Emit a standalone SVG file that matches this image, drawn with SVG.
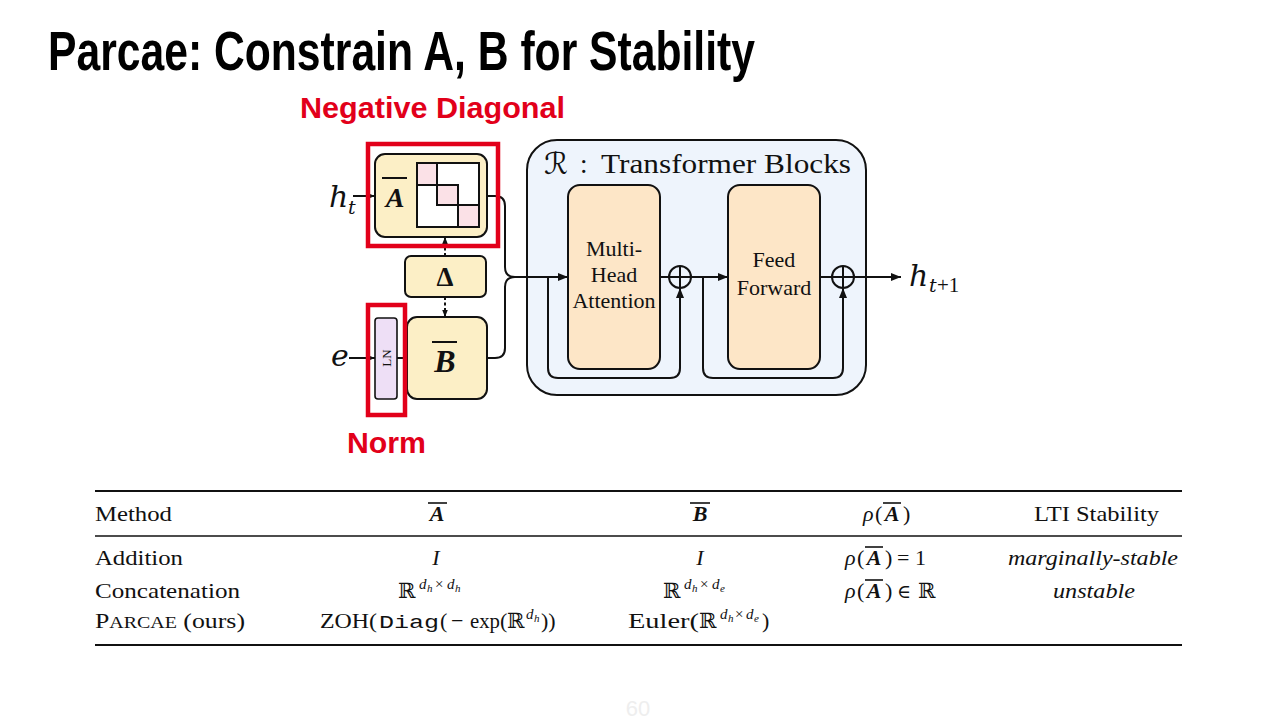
<svg xmlns="http://www.w3.org/2000/svg" width="1280" height="720" viewBox="0 0 1280 720">
<style>
.ser{font-family:"Liberation Serif","Times New Roman",serif;fill:#111}
.math{font-family:"DejaVu Serif","Liberation Serif",serif;font-style:italic;fill:#111}
.it{font-style:italic}
.bi{font-style:italic;font-weight:bold}
.ds{font-family:"DejaVu Serif","DejaVu Sans",serif;fill:#111}
.mono{font-family:"Liberation Mono","DejaVu Sans Mono",monospace;fill:#111}
.ln{stroke:#111;stroke-width:2;fill:none}
.box{stroke:#111;stroke-width:2}
.yel{fill:#fcefc6}
.peach{fill:#fde6c7}
.red{fill:none;stroke:#e2001a;stroke-width:4.5}
.rule{stroke:#111}
.lbl{font-family:"Liberation Sans",Arial,sans-serif;font-weight:bold;fill:#e2001a}
</style>
<defs>
<marker id="arr" viewBox="0 0 10 8" refX="10" refY="4" markerWidth="10" markerHeight="8" markerUnits="userSpaceOnUse" orient="auto"><path d="M0,0 L10,4 L0,8 z" fill="#111"/></marker>
<marker id="arrs" viewBox="0 0 10 8" refX="10" refY="4" markerWidth="7" markerHeight="6" markerUnits="userSpaceOnUse" orient="auto"><path d="M0,0 L10,4 L0,8 z" fill="#111"/></marker>
</defs>
<rect width="1280" height="720" fill="#ffffff"/>

<text x="48" y="70" font-family="Liberation Sans,Arial,sans-serif" font-weight="bold" font-size="55" fill="#000" textLength="707" lengthAdjust="spacingAndGlyphs">Parcae: Constrain A, B for Stability</text>

<g id="container">
<rect x="527" y="140" width="339" height="255" rx="30" fill="#eef4fc" class="box"/>
<text x="544" y="174" class="ds it" font-size="30">ℛ</text>
<text x="580" y="173" class="ser" font-size="27">:</text>
<text x="601" y="173" class="ser" font-size="27" textLength="250" lengthAdjust="spacingAndGlyphs">Transformer Blocks</text>
</g>

<g id="connectors">
<line x1="353" y1="196" x2="375" y2="196" class="ln" stroke-width="1.6" marker-end="url(#arrs)"/>
<line x1="349" y1="358" x2="375" y2="358" class="ln" stroke-width="1.6" marker-end="url(#arrs)"/>
<line x1="397" y1="358" x2="407" y2="358" class="ln" stroke-width="1.6"/>
<line x1="445" y1="256" x2="445" y2="237" class="ln" stroke-width="1.6" stroke-dasharray="3 2.5" marker-end="url(#arrs)"/>
<line x1="445" y1="297" x2="445" y2="317" class="ln" stroke-width="1.6" stroke-dasharray="3 2.5" marker-end="url(#arrs)"/>
<path d="M487,196 H495 Q505,196 505,206 V267 Q505,277 515,277" class="ln"/>
<path d="M487,358 H495 Q505,358 505,348 V287 Q505,277 515,277" class="ln"/>
<line x1="515" y1="277" x2="568" y2="277" class="ln" marker-end="url(#arr)"/>
<line x1="660" y1="277" x2="669" y2="277" class="ln"/>
<line x1="691" y1="277" x2="728" y2="277" class="ln" marker-end="url(#arr)"/>
<line x1="820" y1="277" x2="832" y2="277" class="ln"/>
<line x1="854" y1="277" x2="901" y2="277" class="ln" marker-end="url(#arr)"/>
<path d="M548,277 V368 Q548,378 558,378 H670 Q680,378 680,368 V288" class="ln" marker-end="url(#arr)"/>
<path d="M703,277 V368 Q703,378 713,378 H833 Q843,378 843,368 V288" class="ln" marker-end="url(#arr)"/>
</g>

<g id="input-ht">
<text x="329" y="207" class="math" font-size="30">h</text>
<text x="348" y="214" class="math" font-size="19">t</text>
</g>
<g id="input-e">
<text x="331" y="366" class="math" font-size="30">e</text>
</g>

<g id="node-A">
<rect x="375" y="154" width="112" height="83" rx="10" class="box yel"/>
<line x1="382" y1="178" x2="407" y2="178" stroke="#111" stroke-width="2"/>
<text x="395" y="207" class="ser bi" font-size="28" text-anchor="middle">A</text>
<rect x="417" y="163" width="62" height="64" fill="#fff"/>
<rect x="417" y="163" width="20" height="22" fill="#fbe1e7"/>
<rect x="437" y="185" width="21" height="20" fill="#fbe1e7"/>
<rect x="458" y="205" width="21" height="22" fill="#fbe1e7"/>
<path d="M417,185 H458 V227 M437,163 V205 H479" class="ln"/>
<rect x="417" y="163" width="62" height="64" class="ln"/>
</g>

<g id="node-Delta">
<rect x="405" y="256" width="81" height="41" rx="6" class="box yel"/>
<text x="445" y="286" class="ser" font-weight="bold" font-size="27" text-anchor="middle">Δ</text>
</g>

<g id="node-B">
<rect x="407" y="317" width="80" height="82" rx="10" class="box yel"/>
<line x1="432" y1="342" x2="457" y2="342" stroke="#111" stroke-width="2"/>
<text x="445" y="372" class="ser bi" font-size="32" text-anchor="middle">B</text>
</g>

<g id="node-LN">
<rect x="375" y="318" width="22" height="81" rx="3" fill="#eedff6" stroke="#111" stroke-width="1.6"/>
<text x="0" y="0" class="ser" font-size="13" text-anchor="middle" transform="translate(390.5,358) rotate(-90)">LN</text>
</g>

<g id="node-MHA">
<rect x="568" y="185" width="92" height="184" rx="12" class="box peach"/>
<text x="614" y="256" class="ser" font-size="22" text-anchor="middle">Multi-</text>
<text x="614" y="282" class="ser" font-size="22" text-anchor="middle">Head</text>
<text x="614" y="308" class="ser" font-size="22" text-anchor="middle">Attention</text>
</g>

<g id="add-1">
<circle cx="680" cy="277" r="11" fill="none" stroke="#111" stroke-width="2"/>
<path d="M669,277 H691 M680,266 V288" class="ln"/>
</g>

<g id="node-FF">
<rect x="728" y="185" width="92" height="184" rx="12" class="box peach"/>
<text x="774" y="267" class="ser" font-size="22" text-anchor="middle">Feed</text>
<text x="774" y="295" class="ser" font-size="22" text-anchor="middle">Forward</text>
</g>

<g id="add-2">
<circle cx="843" cy="277" r="11" fill="none" stroke="#111" stroke-width="2"/>
<path d="M832,277 H854 M843,266 V288" class="ln"/>
</g>

<g id="output">
<text x="909" y="286" class="math" font-size="30">h</text>
<text x="929" y="292" class="math" font-size="19">t</text>
<text x="937" y="292" class="ser" font-size="21">+1</text>
</g>

<g id="highlights">
<rect x="368" y="144" width="130" height="102" class="red"/>
<rect x="368" y="305" width="37" height="110" class="red"/>
<text x="300" y="118" class="lbl" font-size="29" textLength="265" lengthAdjust="spacingAndGlyphs">Negative Diagonal</text>
<text x="347" y="453" class="lbl" font-size="29" textLength="79" lengthAdjust="spacingAndGlyphs">Norm</text>
</g>

<g id="table">
<line x1="95" y1="491" x2="1182" y2="491" class="rule" stroke-width="2"/>
<line x1="95" y1="536" x2="1182" y2="536" class="rule" stroke-width="1.3"/>
<line x1="95" y1="645" x2="1182" y2="645" class="rule" stroke-width="2"/>

<text x="95" y="521" class="ser" font-size="22" textLength="77" lengthAdjust="spacingAndGlyphs">Method</text>
<line x1="428" y1="503" x2="447" y2="503" stroke="#111" stroke-width="1.6"/>
<text x="437" y="521" class="ser bi" font-size="22" text-anchor="middle">A</text>
<line x1="690" y1="503" x2="710" y2="503" stroke="#111" stroke-width="1.6"/>
<text x="700" y="521" class="ser bi" font-size="22" text-anchor="middle">B</text>
<text x="863" y="521" class="ser it" font-size="22">ρ</text>
<text x="875" y="521" class="ser" font-size="22">(</text>
<line x1="883" y1="503" x2="901" y2="503" stroke="#111" stroke-width="1.6"/>
<text x="892" y="521" class="ser bi" font-size="22" text-anchor="middle">A</text>
<text x="903" y="521" class="ser" font-size="22">)</text>
<text x="1034" y="521" class="ser" font-size="22" textLength="125" lengthAdjust="spacingAndGlyphs">LTI Stability</text>

<text x="95" y="565" class="ser" font-size="22" textLength="88" lengthAdjust="spacingAndGlyphs">Addition</text>
<text x="436" y="565" class="ser it" font-size="22" text-anchor="middle">I</text>
<text x="700" y="565" class="ser it" font-size="22" text-anchor="middle">I</text>
<text x="845" y="565" class="ser it" font-size="22">ρ</text>
<text x="857" y="565" class="ser" font-size="22">(</text>
<line x1="865" y1="547" x2="883" y2="547" stroke="#111" stroke-width="1.6"/>
<text x="874" y="565" class="ser bi" font-size="22" text-anchor="middle">A</text>
<text x="885" y="565" class="ser" font-size="22">)</text>
<text x="897" y="565" class="ser" font-size="22">= 1</text>
<text x="1008" y="565" class="ser it" font-size="22" textLength="170" lengthAdjust="spacingAndGlyphs">marginally-stable</text>

<text x="95" y="598" class="ser" font-size="22" textLength="145" lengthAdjust="spacingAndGlyphs">Concatenation</text>
<text x="398" y="598" class="ds" font-size="21">ℝ</text>
<text x="419" y="589" class="ser it" font-size="15">d</text>
<text x="427" y="592" class="ser it" font-size="11">h</text>
<text x="435" y="589" class="ser" font-size="15">×</text>
<text x="447" y="589" class="ser it" font-size="15">d</text>
<text x="455" y="592" class="ser it" font-size="11">h</text>
<text x="663" y="598" class="ds" font-size="21">ℝ</text>
<text x="684" y="589" class="ser it" font-size="15">d</text>
<text x="692" y="592" class="ser it" font-size="11">h</text>
<text x="700" y="589" class="ser" font-size="15">×</text>
<text x="712" y="589" class="ser it" font-size="15">d</text>
<text x="720" y="592" class="ser it" font-size="11">e</text>
<text x="845" y="598" class="ser it" font-size="22">ρ</text>
<text x="857" y="598" class="ser" font-size="22">(</text>
<line x1="865" y1="580" x2="883" y2="580" stroke="#111" stroke-width="1.6"/>
<text x="874" y="598" class="ser bi" font-size="22" text-anchor="middle">A</text>
<text x="885" y="598" class="ser" font-size="22">)</text>
<text x="897" y="598" class="ds" font-size="19">∈</text>
<text x="918" y="598" class="ds" font-size="21">ℝ</text>
<text x="1053" y="598" class="ser it" font-size="22" textLength="82" lengthAdjust="spacingAndGlyphs">unstable</text>

<text x="95" y="628" class="ser" font-size="22" textLength="150" lengthAdjust="spacingAndGlyphs">P<tspan font-size="17">ARCAE</tspan> (ours)</text>
<text x="320" y="628" class="ser" font-size="22" textLength="57" lengthAdjust="spacingAndGlyphs">ZOH(</text>
<text x="379" y="628" class="mono" font-size="19" textLength="60" lengthAdjust="spacingAndGlyphs">Diag</text>
<text x="440" y="628" class="ser" font-size="22">(</text>
<text x="451" y="628" class="ser" font-size="22">−</text>
<text x="470" y="628" class="ser" font-size="22" textLength="30" lengthAdjust="spacingAndGlyphs">exp</text>
<text x="500" y="628" class="ser" font-size="22">(</text>
<text x="507" y="628" class="ds" font-size="21">ℝ</text>
<text x="526" y="619" class="ser it" font-size="15">d</text>
<text x="534" y="622" class="ser it" font-size="11">h</text>
<text x="541" y="628" class="ser" font-size="22">))</text>
<text x="628" y="628" class="ser" font-size="22" textLength="71" lengthAdjust="spacingAndGlyphs">Euler(</text>
<text x="699" y="628" class="ds" font-size="21">ℝ</text>
<text x="720" y="619" class="ser it" font-size="15">d</text>
<text x="728" y="622" class="ser it" font-size="11">h</text>
<text x="735" y="619" class="ser" font-size="15">×</text>
<text x="746" y="619" class="ser it" font-size="15">d</text>
<text x="754" y="622" class="ser it" font-size="11">e</text>
<text x="762" y="628" class="ser" font-size="22">)</text>
</g>

<text x="638" y="716" font-family="Liberation Sans,Arial,sans-serif" font-size="22" fill="#eeeeee" text-anchor="middle">60</text>
</svg>
